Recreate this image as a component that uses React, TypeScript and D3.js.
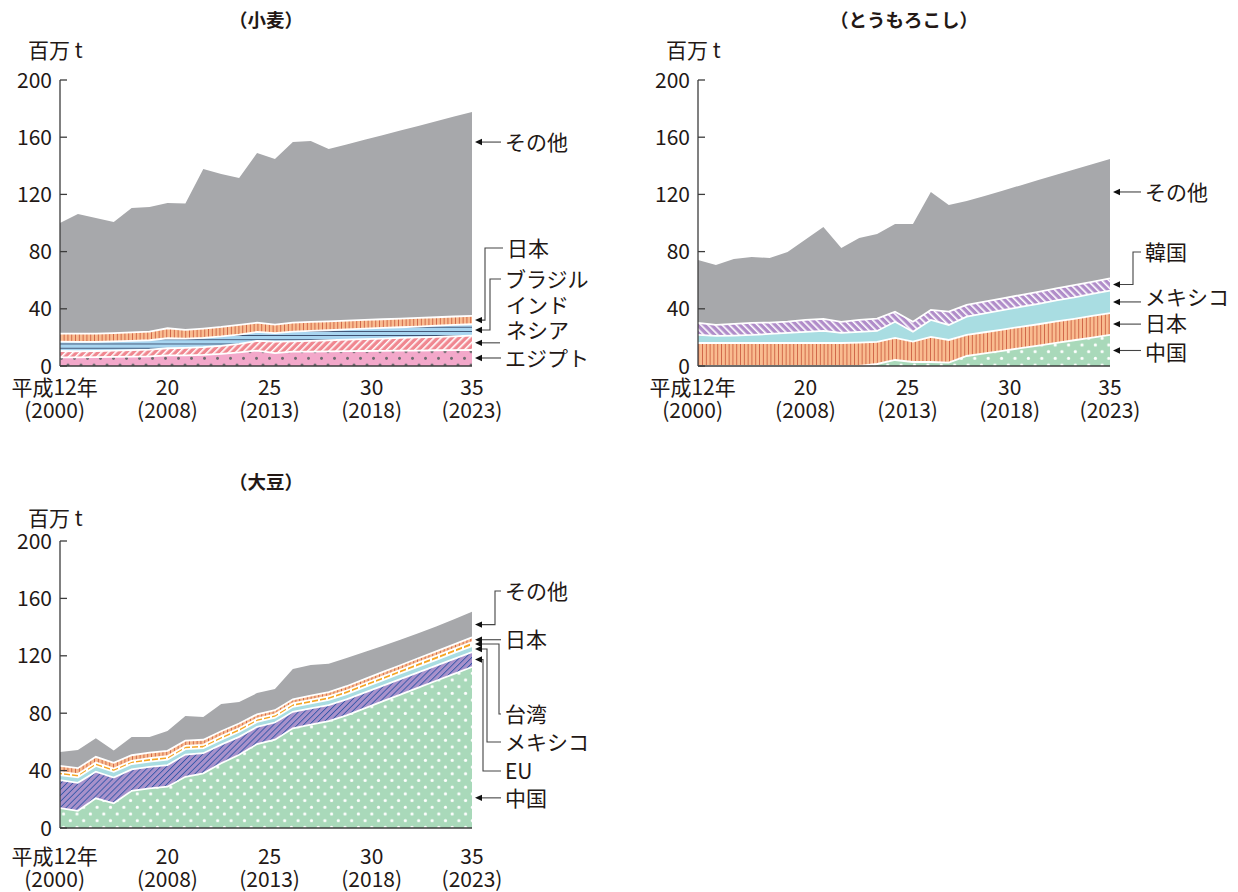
import React from 'react';
import * as d3 from 'd3';

// ---------- categories & ticks ----------
const years = [2000, 2001, 2002, 2003, 2004, 2005, 2006, 2007, 2008, 2009, 2010, 2011,
  2012, 2013, 2014, 2015, 2016, 2017, 2018, 2019, 2020, 2021, 2022, 2023];
const yTicks = [0, 40, 80, 120, 160, 200];
const xTickEra = ['平成12年', '20', '25', '30', '35'];
const xTickYear = ['(2000)', '(2008)', '(2013)', '(2018)', '(2023)'];
const xTickAt = [1999.7, 2006, 2011.7, 2017.4, 2023];

// ---------- wheat (百万t) ----------
const wheatEgypt = [6.0, 6.0, 6.2, 6.4, 6.6, 6.8, 7.4, 7.5, 7.8, 8.5, 9.5, 10.8, 9.0, 10.0, 10.1, 10.2, 10.4, 10.5, 10.6, 10.7, 10.8, 11.0, 11.1, 11.2];
const wheatIndonesia = [4.5, 4.3, 4.3, 4.3, 4.5, 4.7, 5.0, 5.2, 5.4, 5.6, 5.9, 6.7, 8.0, 7.2, 7.5, 7.8, 8.0, 8.3, 8.6, 8.9, 9.2, 9.4, 9.7, 10.0];
const wheatBrazil = [6.5, 6.6, 6.4, 6.5, 6.5, 6.5, 7.0, 6.5, 6.5, 6.6, 6.6, 6.3, 6.0, 6.8, 6.9, 7.0, 7.2, 7.3, 7.4, 7.5, 7.6, 7.8, 7.9, 8.0];
const wheatJapan = [5.7, 5.8, 5.8, 5.8, 5.9, 6.0, 7.0, 6.0, 6.5, 6.6, 6.7, 6.5, 6.0, 6.3, 6.3, 6.2, 6.2, 6.1, 6.1, 6.0, 6.0, 5.9, 5.9, 5.8];
const wheatOther = [77.3, 83.6, 80.8, 77.7, 87.0, 87.2, 87.6, 88.4, 111.6, 107.0, 102.8, 118.7, 115.8, 126.3, 126.5, 120.5, 123.1, 126.0, 128.7, 131.6, 134.3, 137.0, 139.8, 142.6];

// ---------- corn ----------
const cornChina = [0, 0, 0, 0, 0, 0, 0, 0, 0, 0, 1.4, 4.2, 2.8, 2.8, 2.3, 7.0, 8.8, 10.6, 12.5, 14.3, 16.2, 18.0, 19.9, 21.7];
const cornJapan = [16.1, 16.1, 16.1, 16.1, 16.1, 16.1, 16.1, 16.1, 16.1, 16.4, 15.4, 15.4, 14.2, 17.5, 15.9, 14.7, 14.8, 14.8, 14.9, 14.9, 15.0, 15.0, 15.1, 15.2];
const cornMexico = [5.6, 4.9, 5.2, 5.6, 6.3, 7.0, 7.7, 8.4, 7.0, 7.4, 7.7, 11.4, 7.0, 11.9, 10.5, 12.8, 13.2, 13.6, 13.9, 14.3, 14.7, 15.0, 15.4, 15.8];
const cornKorea = [8.4, 7.7, 8.1, 8.4, 8.0, 8.0, 8.4, 8.4, 7.7, 8.4, 8.6, 7.0, 7.0, 7.0, 9.3, 8.2, 8.2, 8.3, 8.3, 8.4, 8.4, 8.5, 8.5, 8.6];
const cornOther = [44.0, 41.9, 45.4, 46.1, 45.1, 48.6, 56.3, 64.3, 51.7, 57.3, 59.2, 61.3, 68.3, 82.5, 74.6, 72.7, 73.9, 75.3, 76.7, 78.1, 79.4, 80.9, 82.2, 83.5];

// ---------- soybeans ----------
const soyChina = [13.9, 12.0, 20.7, 17.2, 25.9, 27.6, 28.8, 35.7, 38.1, 45.1, 51.0, 58.5, 61.5, 69.5, 72.0, 74.5, 78.5, 83.4, 88.2, 93.0, 97.8, 102.6, 107.4, 112.2];
const soyEU = [19.5, 19.5, 18.5, 18.0, 15.0, 15.0, 15.0, 15.5, 14.0, 13.0, 12.5, 12.0, 12.0, 11.5, 11.3, 11.2, 11.1, 11.0, 10.9, 10.8, 10.7, 10.6, 10.5, 10.4];
const soyMexico = [3.5, 3.8, 4.0, 4.0, 3.7, 3.7, 3.8, 3.7, 3.6, 3.5, 3.6, 3.4, 3.4, 3.5, 3.6, 3.6, 3.7, 3.8, 3.8, 3.9, 4.0, 4.0, 4.1, 4.2];
const soyTaiwan = [2.2, 2.3, 2.4, 2.2, 2.2, 2.4, 2.4, 2.3, 2.2, 2.4, 2.4, 2.3, 2.3, 2.3, 2.4, 2.4, 2.5, 2.5, 2.6, 2.6, 2.7, 2.7, 2.8, 2.8];
const soyJapan = [4.2, 4.1, 4.0, 4.0, 3.9, 3.8, 3.8, 3.7, 3.6, 3.4, 3.3, 3.0, 2.9, 2.9, 2.9, 3.0, 3.0, 3.0, 3.1, 3.1, 3.1, 3.2, 3.2, 3.2];
const soyOther = [9.7, 12.7, 12.9, 8.6, 12.7, 11.0, 13.8, 17.1, 15.9, 19.0, 15.0, 14.8, 14.8, 21.1, 21.4, 19.8, 19.7, 18.9, 18.2, 17.8, 17.4, 17.3, 17.4, 17.9];

const FONT = '"Noto Sans CJK JP", "Noto Sans", sans-serif';
const TXT = '#231815';
const AX = '#3c3c3c';

type Series = { key: string; values: number[]; fill: string };
type Label = {
  key: string;
  lines: string[];
  tx: number;
  ty: number;
  elbowX?: number;
  straightTo?: number;
  arrowValue?: number;
};

type PanelProps = {
  title: string;
  x0: number; x1: number; yTop: number; yBot: number;
  titleY: number; unitY: number; row1: number; row2: number;
  series: Series[];
  labels: Label[];
};

function Panel(p: PanelProps) {
  const x = d3.scaleLinear().domain([2000, 2023]).range([p.x0, p.x1]);
  const y = d3.scaleLinear().domain([0, 200]).range([p.yBot, p.yTop]);
  const table = years.map((yr, i) => {
    const row: any = { year: yr };
    p.series.forEach(s => { row[s.key] = s.values[i]; });
    return row;
  });
  const stacked = d3.stack<any>().keys(p.series.map(s => s.key))(table);
  const area = d3.area<any>().x(d => x(d.data.year)).y0(d => y(d[0])).y1(d => y(d[1]));
  const topLine = d3.line<any>().x(d => x(d.data.year)).y(d => y(d[1]));
  const last = years.length - 1;
  const tipX = p.x1 + 3;

  return (
    <g>
      <text x={p.x0 + 206} y={p.titleY} textAnchor="middle" fontSize={18.5} fontWeight={700}
        fontFamily={FONT} fill={TXT}>{p.title}</text>
      <text x={p.x0 - 32} y={p.unitY} fontSize={21} fontFamily={FONT} fill={TXT}>百万 t</text>
      {stacked.map((layer, i) => (
        <path key={'a' + i} d={area(layer) || ''} fill={p.series[i].fill} />
      ))}
      {stacked.slice(0, stacked.length - 1).map((layer, i) => (
        <path key={'l' + i} d={topLine(layer) || ''} fill="none" stroke="#fff" strokeWidth={1.8} />
      ))}
      {/* axes */}
      <line x1={p.x0} x2={p.x0} y1={y(200)} y2={y(0)} stroke={AX} strokeWidth={1.3} />
      <line x1={p.x0} x2={p.x1} y1={y(0)} y2={y(0)} stroke={AX} strokeWidth={1.6} />
      {yTicks.map(t => (
        <g key={'t' + t}>
          <line x1={p.x0} x2={p.x0 + 7} y1={y(t)} y2={y(t)} stroke={AX} strokeWidth={1.3} />
          <text x={p.x0 - 8} y={y(t)} dy="0.36em" textAnchor="end" fontSize={21}
            fontFamily={FONT} fill={TXT}>{t}</text>
        </g>
      ))}
      {xTickEra.map((t, i) => (
        <g key={'x' + i}>
          <text x={x(xTickAt[i])} y={p.row1} textAnchor="middle" fontSize={21}
            fontFamily={FONT} fill={TXT}>{t}</text>
          <text x={x(xTickAt[i])} y={p.row2} textAnchor="middle" fontSize={21}
            fontFamily={FONT} fill={TXT}>{xTickYear[i]}</text>
        </g>
      ))}
      {p.labels.map((lb, i) => {
        const idx = p.series.findIndex(s => s.key === lb.key);
        const pt = stacked[idx][last];
        const ay = lb.arrowValue != null ? y(lb.arrowValue) : (y(pt[0]) + y(pt[1])) / 2;
        let pts: [number, number][];
        if (lb.elbowX != null) {
          pts = [[tipX + 5, ay], [lb.elbowX, ay], [lb.elbowX, lb.ty], [lb.tx - 4, lb.ty]];
        } else if (lb.straightTo != null) {
          pts = [[tipX + 5, ay], [lb.straightTo, ay]];
        } else {
          pts = [[tipX + 5, ay], [lb.tx - 4, ay]];
        }
        const n = lb.lines.length;
        return (
          <g key={'lb' + i}>
            <polyline points={pts.map(q => q.join(',')).join(' ')} fill="none" stroke="#444" strokeWidth={1.1} />
            <path d={`M${tipX},${ay} L${tipX + 7},${ay - 3.2} L${tipX + 7},${ay + 3.2} Z`} fill="#111" />
            {lb.lines.map((s, k) => (
              <text key={k} x={lb.tx} y={lb.ty + (k - (n - 1)) * 25} dy="0.36em" fontSize={21}
                fontFamily={FONT} fill={TXT}>{s}</text>
            ))}
          </g>
        );
      })}
    </g>
  );
}

function Defs() {
  return (
    <defs>
      <pattern id="pEgypt" patternUnits="userSpaceOnUse" width={13} height={13.4}>
        <rect width={13} height={13.4} fill="#F3A8CA" />
        <circle cx={3} cy={3.2} r={1.5} fill="#6d6a6e" />
        <circle cx={9.5} cy={9.9} r={1.5} fill="#6d6a6e" />
      </pattern>
      <pattern id="pIndo" patternUnits="userSpaceOnUse" width={5} height={5} patternTransform="rotate(45)">
        <rect width={5} height={5} fill="#F08790" />
        <rect width={1.6} height={5} fill="#fff" />
      </pattern>
      <pattern id="pBrazil" patternUnits="userSpaceOnUse" width={8} height={4.2}>
        <rect width={8} height={4.2} fill="#A8D5F0" />
        <rect y={3.4} width={8} height={0.8} fill="#2d3c5e" />
      </pattern>
      <pattern id="pJapan" patternUnits="userSpaceOnUse" width={3.8} height={8}>
        <rect width={3.8} height={8} fill="#F9BC90" />
        <rect x={3} width={0.8} height={8} fill="#C9563A" />
      </pattern>
      <pattern id="pGreen" patternUnits="userSpaceOnUse" width={13.4} height={13.4}>
        <rect width={13.4} height={13.4} fill="#A9D9BA" />
        <circle cx={3.3} cy={3.3} r={1.6} fill="#fff" />
        <circle cx={10} cy={10} r={1.6} fill="#fff" />
      </pattern>
      <pattern id="pKorea" patternUnits="userSpaceOnUse" width={5} height={5} patternTransform="rotate(-45)">
        <rect width={5} height={5} fill="#B08CC9" />
        <rect width={1.6} height={5} fill="#fff" />
      </pattern>
      <pattern id="pEU" patternUnits="userSpaceOnUse" width={4.2} height={5} patternTransform="rotate(45)">
        <rect width={4.2} height={5} fill="#A891CB" />
        <rect width={0.9} height={5} fill="#3457a8" />
      </pattern>
      <pattern id="pTaiwan" patternUnits="userSpaceOnUse" width={8} height={8}>
        <rect width={8} height={8} fill="#F6A623" />
        <rect x={6} width={2} height={8} fill="#fff" />
      </pattern>
    </defs>
  );
}

const GRAY = '#A7A8AB';
const TEAL = '#A9DDE2';

export default function App() {
  const wheatSeries: Series[] = [
    { key: 'エジプト', values: wheatEgypt, fill: 'url(#pEgypt)' },
    { key: 'インドネシア', values: wheatIndonesia, fill: 'url(#pIndo)' },
    { key: 'ブラジル', values: wheatBrazil, fill: 'url(#pBrazil)' },
    { key: '日本', values: wheatJapan, fill: 'url(#pJapan)' },
    { key: 'その他', values: wheatOther, fill: GRAY },
  ];
  const cornSeries: Series[] = [
    { key: '中国', values: cornChina, fill: 'url(#pGreen)' },
    { key: '日本', values: cornJapan, fill: 'url(#pJapan)' },
    { key: 'メキシコ', values: cornMexico, fill: TEAL },
    { key: '韓国', values: cornKorea, fill: 'url(#pKorea)' },
    { key: 'その他', values: cornOther, fill: GRAY },
  ];
  const soySeries: Series[] = [
    { key: '中国', values: soyChina, fill: 'url(#pGreen)' },
    { key: 'EU', values: soyEU, fill: 'url(#pEU)' },
    { key: 'メキシコ', values: soyMexico, fill: TEAL },
    { key: '台湾', values: soyTaiwan, fill: 'url(#pTaiwan)' },
    { key: '日本', values: soyJapan, fill: 'url(#pJapan)' },
    { key: 'その他', values: soyOther, fill: GRAY },
  ];

  const wheatLabels: Label[] = [
    { key: 'その他', lines: ['その他'], tx: 505, ty: 142, arrowValue: 156.6 },
    { key: '日本', lines: ['日本'], tx: 507, ty: 248, elbowX: 485 },
    { key: 'ブラジル', lines: ['ブラジル'], tx: 505, ty: 279, elbowX: 490 },
    { key: 'インドネシア', lines: ['インド', 'ネシア'], tx: 506, ty: 330, straightTo: 500 },
    { key: 'エジプト', lines: ['エジプト'], tx: 505, ty: 358 },
  ];
  const cornLabels: Label[] = [
    { key: 'その他', lines: ['その他'], tx: 1145, ty: 192, arrowValue: 121.7 },
    { key: '韓国', lines: ['韓国'], tx: 1145, ty: 252, elbowX: 1133 },
    { key: 'メキシコ', lines: ['メキシコ'], tx: 1145, ty: 297 },
    { key: '日本', lines: ['日本'], tx: 1145, ty: 323 },
    { key: '中国', lines: ['中国'], tx: 1145, ty: 352 },
  ];
  const soyLabels: Label[] = [
    { key: 'その他', lines: ['その他'], tx: 505, ty: 591, elbowX: 495 },
    { key: '日本', lines: ['日本'], tx: 505, ty: 639 },
    { key: '台湾', lines: ['台湾'], tx: 505, ty: 714, elbowX: 499 },
    { key: 'メキシコ', lines: ['メキシコ'], tx: 505, ty: 742, elbowX: 487 },
    { key: 'EU', lines: ['EU'], tx: 505, ty: 771, elbowX: 483 },
    { key: '中国', lines: ['中国'], tx: 505, ty: 798, arrowValue: 21 },
  ];

  return (
    <svg width={1238} height={892} style={{ position: 'absolute', left: 0, top: 0, background: '#fff' }}>
      <Defs />
      <rect width={1238} height={892} fill="#fff" />
      <Panel title="（小麦）" x0={60} x1={472} yTop={80} yBot={366} titleY={27} unitY={58}
        row1={395} row2={418} series={wheatSeries} labels={wheatLabels} />
      <Panel title="（とうもろこし）" x0={698} x1={1110} yTop={80} yBot={366} titleY={27} unitY={58}
        row1={395} row2={418} series={cornSeries} labels={cornLabels} />
      <Panel title="（大豆）" x0={60} x1={472} yTop={541} yBot={828} titleY={489} unitY={526}
        row1={864} row2={887} series={soySeries} labels={soyLabels} />
    </svg>
  );
}
